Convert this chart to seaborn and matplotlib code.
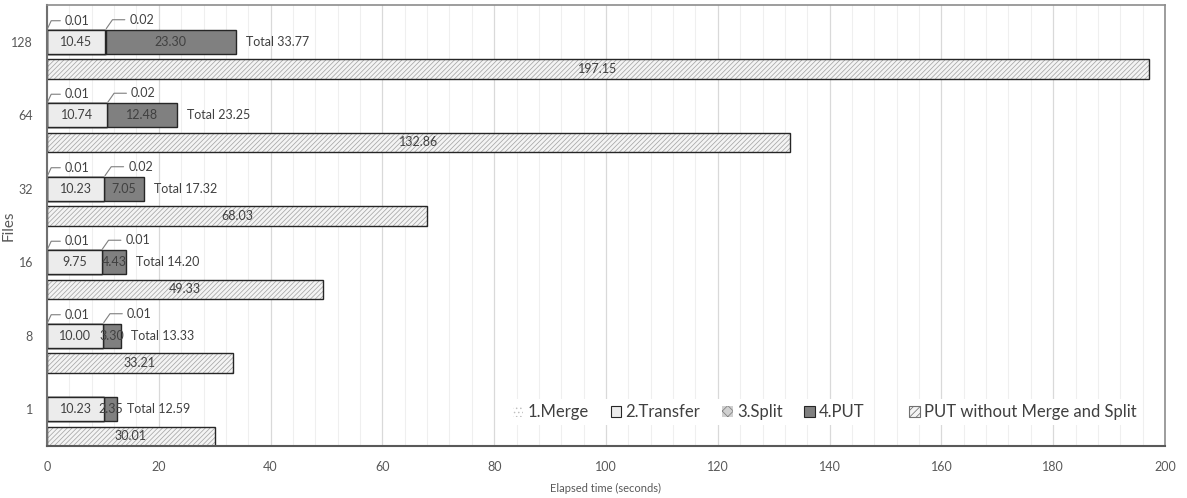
import numpy as np
import pandas as pd
import matplotlib
matplotlib.use("Agg")
import matplotlib.pyplot as plt
import seaborn as sns
from matplotlib.patches import Patch

# ---- data ----
files = ["1", "8", "16", "32", "64", "128"]
merge = [0.00, 0.01, 0.01, 0.01, 0.01, 0.01]
transfer = [10.23, 10.00, 9.75, 10.23, 10.74, 10.45]
split = [0.00, 0.01, 0.01, 0.02, 0.02, 0.02]
put = [2.35, 3.30, 4.43, 7.05, 12.48, 23.30]
totals = [12.59, 13.33, 14.20, 17.32, 23.25, 33.77]
put_without = [30.01, 33.21, 49.33, 68.03, 132.86, 197.15]
legend_labels = ["1.Merge", "2.Transfer", "3.Split", "4.PUT", "PUT without Merge and Split"]

sns.set_theme(style="white")
plt.rcParams["font.family"] = ["Lato", "DejaVu Sans"]
plt.rcParams["hatch.linewidth"] = 0.55

fig = plt.figure(figsize=(11.87, 4.98), dpi=100)
ax = fig.add_axes([47 / 1187, 1 - 446 / 498, (1165 - 47) / 1187, (446 - 5) / 498])

idx = np.arange(len(files))
y_top = idx + 0.5
y_bot = idx + 0.13
h_top = 0.327
h_bot = 0.26

m = np.array(merge)
t = np.array(transfer)
s = np.array(split)
p = np.array(put)

df = pd.DataFrame({
    "y_top": y_top, "y_bot": y_bot,
    "c4": m + t + s + p, "c3": m + t + s, "c2": m + t, "c1": m,
    "without": put_without,
})

edge = "#262626"
common = dict(orient="h", native_scale=True, errorbar=None, saturation=1, ax=ax)
# stacked top bars (drawn from largest cumulative down)
sns.barplot(data=df, x="c4", y="y_top", width=h_top, color="#808080",
            edgecolor=edge, linewidth=1.0, **common)
sns.barplot(data=df, x="c3", y="y_top", width=h_top, color="#d0d0d0",
            edgecolor=edge, linewidth=1.0, hatch="xx", **common)
sns.barplot(data=df, x="c2", y="y_top", width=h_top, color="#ececec",
            edgecolor=edge, linewidth=1.0, **common)
sns.barplot(data=df, x="c1", y="y_top", width=h_top, color="#f5f5f5",
            edgecolor=edge, linewidth=1.0, **common)
# bottom bars: hatch pass then outline pass
sns.barplot(data=df, x="without", y="y_bot", width=h_bot, color="#f4f4f4",
            edgecolor="#a6a6a6", linewidth=0, hatch="///////", **common)
sns.barplot(data=df, x="without", y="y_bot", width=h_bot, fill=False,
            edgecolor=edge, linewidth=1.0, **common)

txt_col = "#404040"
fs = 9
for i in idx:
    # inside labels
    ax.text(m[i] + t[i] / 2, y_top[i], f"{transfer[i]:.2f}", ha="center", va="center",
            fontsize=fs, color=txt_col)
    ax.text(m[i] + t[i] + s[i] + p[i] / 2, y_top[i], f"{put[i]:.2f}", ha="center",
            va="center", fontsize=fs, color=txt_col)
    ax.annotate(f"Total {totals[i]:.2f}", xy=(m[i] + t[i] + s[i] + p[i], y_top[i]),
                xytext=(10, 0), textcoords="offset pixels", ha="left", va="center",
                fontsize=fs, color=txt_col)
    ax.text(put_without[i] / 2, y_bot[i], f"{put_without[i]:.2f}", ha="center",
            va="center", fontsize=fs, color=txt_col)
    # callouts for tiny merge / split values
    if merge[i] > 0:
        ax.annotate(f"{merge[i]:.2f}", xy=(0, y_top[i] + h_top / 2),
                    xytext=(18, 9), textcoords="offset pixels", ha="left", va="center",
                    fontsize=fs, color=txt_col,
                    arrowprops=dict(arrowstyle="-", color="#7f7f7f", lw=0.8,
                                    connectionstyle="angle,angleA=0,angleB=65,rad=0",
                                    shrinkA=1, shrinkB=1))
    if split[i] > 0:
        ax.annotate(f"{split[i]:.2f}", xy=(m[i] + t[i], y_top[i] + h_top / 2),
                    xytext=(24, 10), textcoords="offset pixels", ha="left", va="center",
                    fontsize=fs, color=txt_col,
                    arrowprops=dict(arrowstyle="-", color="#7f7f7f", lw=0.8,
                                    connectionstyle="angle,angleA=0,angleB=55,rad=0",
                                    shrinkA=1, shrinkB=1))

ax.set_xlim(0, 200)
ax.set_ylim(0, len(files))
ax.set_xticks(np.arange(0, 201, 20))
ax.set_xticks(np.arange(0, 201, 4), minor=True)
ax.set_yticks(y_top)
ax.set_yticklabels(files)
ax.grid(True, axis="x", which="major", color="#d9d9d9", lw=0.9)
ax.grid(True, axis="x", which="minor", color="#efefef", lw=0.8)
ax.grid(False, axis="y")
ax.set_axisbelow(True)
ax.tick_params(axis="both", which="both", length=0, labelsize=fs, labelcolor="#595959")
ax.tick_params(axis="x", pad=11)
ax.tick_params(axis="y", pad=10)

for side in ["top", "right"]:
    ax.spines[side].set_color("#8c8c8c")
    ax.spines[side].set_linewidth(1.2)
ax.spines["left"].set_color("#707070")
ax.spines["left"].set_linewidth(1.5)
ax.spines["bottom"].set_color("#595959")
ax.spines["bottom"].set_linewidth(1.5)

ax.set_xlabel("Elapsed time (seconds)", fontsize=8, color="#595959", labelpad=7)
ax.set_ylabel("Files", fontsize=11, color="#595959")
ax.yaxis.set_label_coords(-0.0285, 0.5)

handles = [
    Patch(facecolor="white", edgecolor="#bfbfbf", hatch="....", lw=0),
    Patch(facecolor="#ececec", edgecolor=edge, lw=0.8),
    Patch(facecolor="#d0d0d0", edgecolor="#7f7f7f", hatch="xxx", lw=0),
    Patch(facecolor="#808080", edgecolor=edge, lw=0.8),
    Patch(facecolor="#f4f4f4", edgecolor="#707070", hatch="/////", lw=0.8),
]
leg_kw = dict(frameon=True, fontsize=12, handlelength=0.65, handleheight=0.65,
              handletextpad=0.25, columnspacing=1.3, borderpad=0.3)
leg1 = ax.legend(handles[:4], legend_labels[:4], loc="center",
                 bbox_to_anchor=(0.574, 0.077), ncol=4, **leg_kw)
ax.add_artist(leg1)
leg2 = ax.legend(handles[4:], legend_labels[4:], loc="center",
                 bbox_to_anchor=(0.873, 0.077), ncol=1, **leg_kw)
for leg in (leg1, leg2):
    leg.get_frame().set_edgecolor("none")
    leg.get_frame().set_facecolor("white")
    leg.get_frame().set_alpha(1)
    for tx in leg.get_texts():
        tx.set_color("#404040")

fig.savefig("out.png", dpi=100)
